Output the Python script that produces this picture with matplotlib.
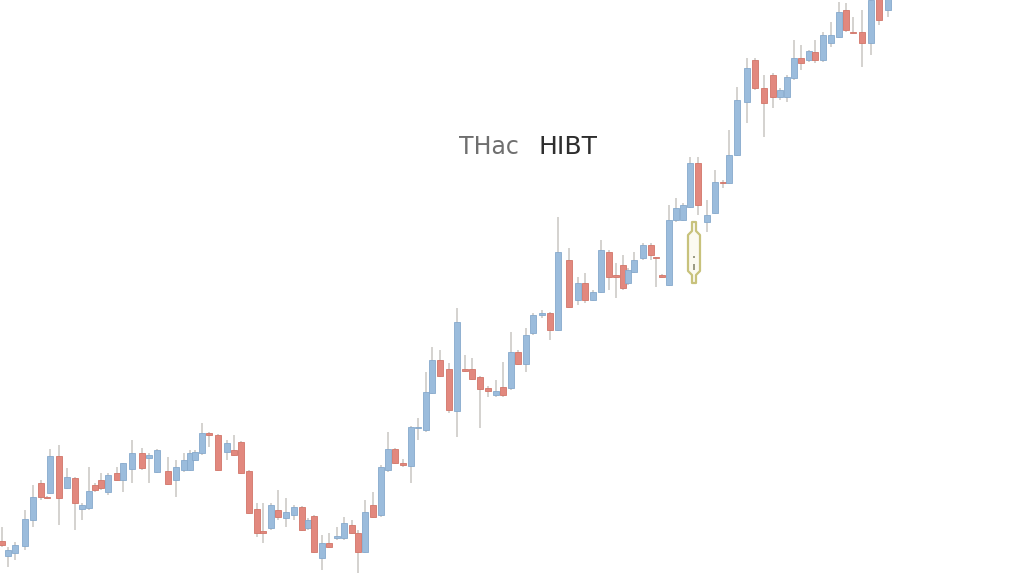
import matplotlib.pyplot as plt
import numpy as np
from matplotlib.patches import Polygon

# candle positions along the time axis and OHLC prices
x_pos = [2, 8, 15, 25, 33, 41, 47, 50, 59, 67, 75, 82, 89, 95, 101, 108, 117, 123, 132, 142,
         149, 157, 168, 176, 184, 190, 195, 202, 209, 218, 227, 234, 241, 249, 257, 263, 271, 278, 286, 294,
         302, 308, 314, 322, 329, 337, 344, 352, 358, 365, 373, 381, 388, 395, 403, 411, 418, 426, 432, 440,
         449, 457, 465, 472, 480, 488, 496, 503, 511, 518, 526, 533, 542, 550, 558, 569, 578, 585, 593, 601,
         609, 616, 623, 628, 634, 643, 651, 656, 662, 669, 676, 683, 690, 698, 707, 715, 723, 729, 737, 747,
         755, 764, 773, 780, 787, 794, 801, 809, 815, 823, 831, 839, 846, 853, 862, 871, 879, 888]
open_ = [35, 20, 23, 30, 56, 93, 79, 83, 120, 88, 98, 67, 68, 91, 96, 84, 103, 96, 107, 123,
         118, 104, 105, 96, 106, 106, 116, 123, 143, 141, 124, 126, 134, 105, 67, 45, 48, 66, 58, 61,
         69, 48, 60, 18, 33, 38, 38, 51, 43, 24, 71, 61, 106, 127, 113, 110, 148, 146, 183, 216,
         207, 165, 207, 207, 199, 188, 181, 189, 188, 224, 212, 243, 261, 263, 246, 316, 276, 293, 276, 284,
         324, 301, 311, 293, 304, 318, 331, 319, 301, 291, 356, 356, 369, 413, 354, 363, 394, 393, 421, 474,
         516, 488, 501, 479, 479, 498, 518, 516, 524, 516, 533, 539, 566, 544, 544, 533, 581, 566]
close_ = [31, 26, 31, 57, 79, 79, 78, 120, 78, 99, 73, 71, 85, 86, 88, 101, 96, 113, 123, 108,
          121, 126, 92, 109, 116, 123, 124, 143, 141, 106, 133, 121, 103, 63, 43, 43, 71, 59, 64, 69,
          46, 56, 24, 33, 29, 40, 53, 43, 24, 64, 59, 109, 127, 113, 111, 149, 149, 184, 216, 200,
          166, 254, 205, 197, 187, 185, 185, 181, 224, 212, 241, 261, 263, 246, 324, 269, 293, 276, 284, 326,
          299, 299, 288, 306, 316, 331, 321, 318, 299, 356, 368, 371, 413, 371, 361, 394, 393, 421, 476, 508,
          488, 473, 479, 486, 499, 518, 513, 525, 516, 541, 541, 564, 546, 543, 533, 576, 556, 581]
high_ = [49, 29, 34, 66, 91, 96, 80, 127, 131, 108, 99, 73, 109, 93, 103, 103, 109, 113, 136, 128,
         123, 127, 119, 116, 123, 126, 126, 153, 144, 142, 136, 141, 135, 106, 73, 73, 73, 86, 78, 71,
         70, 58, 61, 41, 43, 49, 59, 56, 46, 76, 84, 111, 144, 128, 117, 150, 158, 204, 229, 226,
         213, 268, 221, 218, 200, 190, 196, 214, 244, 226, 248, 263, 266, 264, 359, 328, 299, 303, 286, 336,
         326, 313, 321, 308, 324, 333, 333, 319, 302, 371, 378, 373, 419, 419, 376, 406, 396, 446, 489, 518,
         518, 501, 503, 488, 501, 536, 531, 526, 536, 544, 554, 574, 573, 559, 566, 581, 584, 584]
low_ = [29, 9, 16, 26, 49, 76, 77, 82, 51, 87, 46, 56, 66, 84, 86, 81, 95, 84, 93, 106,
        93, 103, 91, 79, 104, 105, 115, 121, 129, 105, 116, 120, 102, 62, 39, 33, 46, 56, 49, 56,
        45, 46, 23, 6, 28, 36, 36, 42, 3, 23, 58, 59, 104, 112, 109, 93, 136, 144, 182, 199,
        163, 139, 204, 196, 148, 179, 179, 179, 186, 211, 204, 241, 258, 236, 245, 268, 271, 273, 275, 283,
        286, 278, 286, 291, 303, 316, 316, 289, 298, 290, 354, 355, 368, 361, 344, 362, 388, 392, 420, 453,
        486, 439, 468, 476, 474, 496, 506, 514, 513, 514, 529, 538, 544, 542, 509, 521, 551, 559]

# odd yellow-outlined marker sitting under the chart
icon_x = [692, 696, 696, 700, 700, 696, 696, 692, 692, 688, 688, 692]
icon_y = [354, 354, 345, 341, 305, 301, 293, 293, 301, 305, 341, 345]

title_left = "THac"
title_right = "HIBT"

up_face = '#9bbcdc'
up_edge = '#86a9cc'
down_face = '#e2887e'
down_edge = '#d27568'
wick_col = '#c9c6c2'

fig = plt.figure(figsize=(10.24, 5.76), dpi=100, facecolor='white')
ax = fig.add_axes([0, 0, 1, 1])
ax.set_xlim(0, 1024)
ax.set_ylim(0, 576)
ax.axis('off')

o = np.array(open_, dtype=float)
c = np.array(close_, dtype=float)
up = c >= o

ax.vlines(x_pos, low_, high_, color=wick_col, lw=1.1, zorder=1)

bottom = np.minimum(o, c)
height = np.maximum(np.abs(c - o), 1.5)
faces = [up_face if u else down_face for u in up]
edges = [up_edge if u else down_edge for u in up]
ax.bar(x_pos, height, bottom=bottom, width=6, color=faces, edgecolor=edges,
       linewidth=0.6, zorder=2)

ax.add_patch(Polygon(list(zip(icon_x, icon_y)), closed=True, facecolor='#fbfaf1',
                     edgecolor='#c8c27c', lw=1.6, joinstyle='round', zorder=3))
ax.vlines([694, 694], [318, 306], [320, 312], color='#8a8a70', lw=1.2, zorder=4)

ax.text(489, 429, title_left, ha='center', va='center', fontsize=17, color='#6f6f6f')
ax.text(568, 429, title_right, ha='center', va='center', fontsize=18, color='#2e2e2e')

fig.savefig('out.png', dpi=100, facecolor='white')
